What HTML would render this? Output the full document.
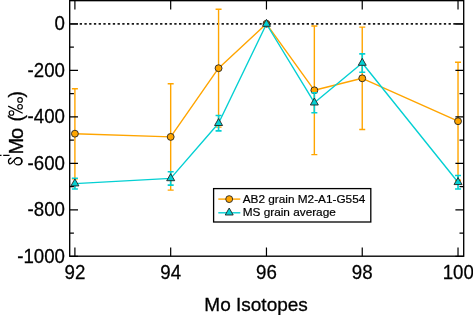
<!DOCTYPE html>
<html><head><meta charset="utf-8"><title>Mo Isotopes</title>
<style>html,body{margin:0;padding:0;background:#fff;width:473px;height:315px;overflow:hidden;font-family:"Liberation Sans",sans-serif}</style>
</head><body>
<svg width="473" height="315" viewBox="0 0 473 315" style="display:block;position:absolute;left:0;top:0;will-change:transform">
<rect x="0" y="0" width="473" height="315" fill="#fff"/>
<line x1="79.7" y1="23.9" x2="453.0" y2="23.9" stroke="#1a1a1a" stroke-width="1.6" stroke-dasharray="2.3 2.429"/>
<polyline points="74.90,133.70 170.68,136.90 218.57,68.20 266.46,23.80 314.35,90.30 362.24,78.30 458.02,121.20" fill="none" stroke="#FFA500" stroke-width="1.4" stroke-linejoin="round"/>
<path d="M74.90 88.70V178.70M71.90 88.70h6M71.90 178.70h6" fill="none" stroke="#FFA500" stroke-width="1.4"/>
<path d="M170.68 83.70V190.10M167.68 83.70h6M167.68 190.10h6" fill="none" stroke="#FFA500" stroke-width="1.4"/>
<path d="M218.57 9.30V127.10M215.57 9.30h6M215.57 127.10h6" fill="none" stroke="#FFA500" stroke-width="1.4"/>
<path d="M314.35 26.00V154.60M311.35 26.00h6M311.35 154.60h6" fill="none" stroke="#FFA500" stroke-width="1.4"/>
<path d="M362.24 27.10V129.50M359.24 27.10h6M359.24 129.50h6" fill="none" stroke="#FFA500" stroke-width="1.4"/>
<path d="M458.02 62.20V180.20M455.02 62.20h6M455.02 180.20h6" fill="none" stroke="#FFA500" stroke-width="1.4"/>
<circle cx="74.90" cy="133.70" r="3.45" fill="#FFA500" stroke="#222" stroke-width="0.9"/>
<circle cx="170.68" cy="136.90" r="3.45" fill="#FFA500" stroke="#222" stroke-width="0.9"/>
<circle cx="218.57" cy="68.20" r="3.45" fill="#FFA500" stroke="#222" stroke-width="0.9"/>
<circle cx="266.46" cy="23.80" r="3.45" fill="#FFA500" stroke="#222" stroke-width="0.9"/>
<circle cx="314.35" cy="90.30" r="3.45" fill="#FFA500" stroke="#222" stroke-width="0.9"/>
<circle cx="362.24" cy="78.30" r="3.45" fill="#FFA500" stroke="#222" stroke-width="0.9"/>
<circle cx="458.02" cy="121.20" r="3.45" fill="#FFA500" stroke="#222" stroke-width="0.9"/>
<polyline points="74.90,183.60 170.68,178.40 218.57,123.20 266.46,24.00 314.35,102.70 362.24,63.00 458.02,182.25" fill="none" stroke="#04D0D3" stroke-width="1.4" stroke-linejoin="round"/>
<path d="M74.90 178.20V189.00M71.90 178.20h6M71.90 189.00h6" fill="none" stroke="#04D0D3" stroke-width="1.65"/>
<path d="M170.68 171.70V185.10M167.68 171.70h6M167.68 185.10h6" fill="none" stroke="#04D0D3" stroke-width="1.65"/>
<path d="M218.57 115.50V130.90M215.57 115.50h6M215.57 130.90h6" fill="none" stroke="#04D0D3" stroke-width="1.65"/>
<path d="M314.35 92.70V112.70M311.35 92.70h6M311.35 112.70h6" fill="none" stroke="#04D0D3" stroke-width="1.65"/>
<path d="M362.24 53.80V72.20M359.24 53.80h6M359.24 72.20h6" fill="none" stroke="#04D0D3" stroke-width="1.65"/>
<path d="M458.02 175.50V189.00M455.02 175.50h6M455.02 189.00h6" fill="none" stroke="#04D0D3" stroke-width="1.65"/>
<path d="M74.90 178.90L78.90 185.90H70.90Z" fill="#04D0D3" stroke="#222" stroke-width="0.9" stroke-linejoin="miter"/>
<path d="M170.68 173.70L174.68 180.70H166.68Z" fill="#04D0D3" stroke="#222" stroke-width="0.9" stroke-linejoin="miter"/>
<path d="M218.57 118.50L222.57 125.50H214.57Z" fill="#04D0D3" stroke="#222" stroke-width="0.9" stroke-linejoin="miter"/>
<path d="M266.46 19.30L270.46 26.30H262.46Z" fill="#04D0D3" stroke="#222" stroke-width="0.9" stroke-linejoin="miter"/>
<path d="M314.35 98.00L318.35 105.00H310.35Z" fill="#04D0D3" stroke="#222" stroke-width="0.9" stroke-linejoin="miter"/>
<path d="M362.24 58.30L366.24 65.30H358.24Z" fill="#04D0D3" stroke="#222" stroke-width="0.9" stroke-linejoin="miter"/>
<path d="M458.02 177.55L462.02 184.55H454.02Z" fill="#04D0D3" stroke="#222" stroke-width="0.9" stroke-linejoin="miter"/>
<rect x="69.7" y="0.65" width="394.0" height="255.54999999999998" fill="none" stroke="#000" stroke-width="1.35"/>
<path d="M74.90 256.2v-8.7M74.90 0.65v8.9M170.68 256.2v-8.7M170.68 0.65v8.9M266.46 256.2v-8.7M266.46 0.65v8.9M362.24 256.2v-8.7M362.24 0.65v8.9M458.02 256.2v-8.7M458.02 0.65v8.9M69.7 23.80h8.3M463.7 23.80h-8.3M69.7 47.05h4.2M463.7 47.05h-4.2M69.7 70.30h8.3M463.7 70.30h-8.3M69.7 93.55h4.2M463.7 93.55h-4.2M69.7 116.80h8.3M463.7 116.80h-8.3M69.7 140.05h4.2M463.7 140.05h-4.2M69.7 163.30h8.3M463.7 163.30h-8.3M69.7 186.55h4.2M463.7 186.55h-4.2M69.7 209.80h8.3M463.7 209.80h-8.3M69.7 233.05h4.2M463.7 233.05h-4.2M69.7 256.30h8.3M463.7 256.30h-8.3" fill="none" stroke="#000" stroke-width="1.2"/>
<path d="M69.7 23.9H77.9M453.3 23.9H463.7" stroke="#1a1a1a" stroke-width="1.6" fill="none"/>
<g font-family="Liberation Sans, sans-serif" font-size="18.7" fill="#000" stroke="#000" stroke-width="0.25">
<text transform="translate(65,30.20) scale(1,1.035)" text-anchor="end">0</text>
<text transform="translate(65,76.70) scale(1,1.035)" text-anchor="end">-200</text>
<text transform="translate(65,123.20) scale(1,1.035)" text-anchor="end">-400</text>
<text transform="translate(65,169.70) scale(1,1.035)" text-anchor="end">-600</text>
<text transform="translate(65,216.20) scale(1,1.035)" text-anchor="end">-800</text>
<text transform="translate(65,262.70) scale(1,1.035)" text-anchor="end">-1000</text>
<text transform="translate(74.90,279.0) scale(1,1.035)" text-anchor="middle">92</text>
<text transform="translate(170.68,279.0) scale(1,1.035)" text-anchor="middle">94</text>
<text transform="translate(266.46,279.0) scale(1,1.035)" text-anchor="middle">96</text>
<text transform="translate(362.24,279.0) scale(1,1.035)" text-anchor="middle">98</text>
<text transform="translate(458.22,279.0) scale(1,1.035)" text-anchor="middle">100</text>
</g>
<text x="256.1" y="310.8" text-anchor="middle" font-family="Liberation Sans, sans-serif" font-size="19" fill="#000" stroke="#000" stroke-width="0.3">Mo Isotopes</text>
<g font-family="Liberation Sans, sans-serif" fill="#000" stroke="#000" stroke-width="0.3">
<path d="M3.2 155.3H9.5M-0.2 155.3H1.5" stroke="#000" stroke-width="1.35" fill="none"/>
<text transform="translate(22.9,154.4) rotate(-90)" font-size="20">M</text>
<text transform="translate(22.9,138.9) rotate(-90)" font-size="20">o</text>
<text transform="translate(23.0,121.5) rotate(-90)" font-size="19.3">(</text>
<text transform="translate(23.0,97.5) rotate(-90)" font-size="19.3">)</text>
</g>
<path fill-rule="evenodd" fill="#000" d="M13.7 161.3a4.55 4.2 0 1 0 9.1 0a4.55 4.2 0 1 0 -9.1 0ZM14.6 161.3a3.2 3.05 0 1 0 6.4 0a3.2 3.05 0 1 0 -6.4 0Z"/>
<path d="M10.9 158.1C9.3 158.8 8.3 160.3 8.5 161.8C8.7 163.6 9.9 164.3 11.0 163.5C12.6 162.3 14.0 159.8 16.2 158.5C17.0 158.0 17.8 157.7 18.6 157.7" fill="none" stroke="#000" stroke-width="1.25" stroke-linecap="round"/>
<g fill="none" stroke="#000" stroke-width="1.1"><circle cx="20.05" cy="99.9" r="2.3"/><circle cx="20.05" cy="106.75" r="2.3"/><circle cx="11.45" cy="113.0" r="2.3"/><path d="M8.2 106.1L22.7 113.3" stroke-width="1.2"/></g>
<rect x="213.6" y="188.6" width="157.2" height="33.4" fill="#fff" stroke="#000" stroke-width="1.3"/>
<line x1="218.3" y1="199.1" x2="240.3" y2="199.1" stroke="#FFA500" stroke-width="1.4"/>
<circle cx="229.2" cy="199.1" r="3.45" fill="#FFA500" stroke="#222" stroke-width="0.9"/>
<line x1="218.3" y1="212.8" x2="240.3" y2="212.8" stroke="#04D0D3" stroke-width="1.4"/>
<path d="M229.2 208.0L233.2 215.0H225.2Z" fill="#04D0D3" stroke="#222" stroke-width="0.9"/>
<g font-family="Liberation Sans, sans-serif" font-size="11.8" fill="#000" stroke="#000" stroke-width="0.2"><text x="242.7" y="202.9">AB2 grain M2-A1-G554</text><text x="242.7" y="216.2">MS grain average</text></g>
</svg>
</body></html>
